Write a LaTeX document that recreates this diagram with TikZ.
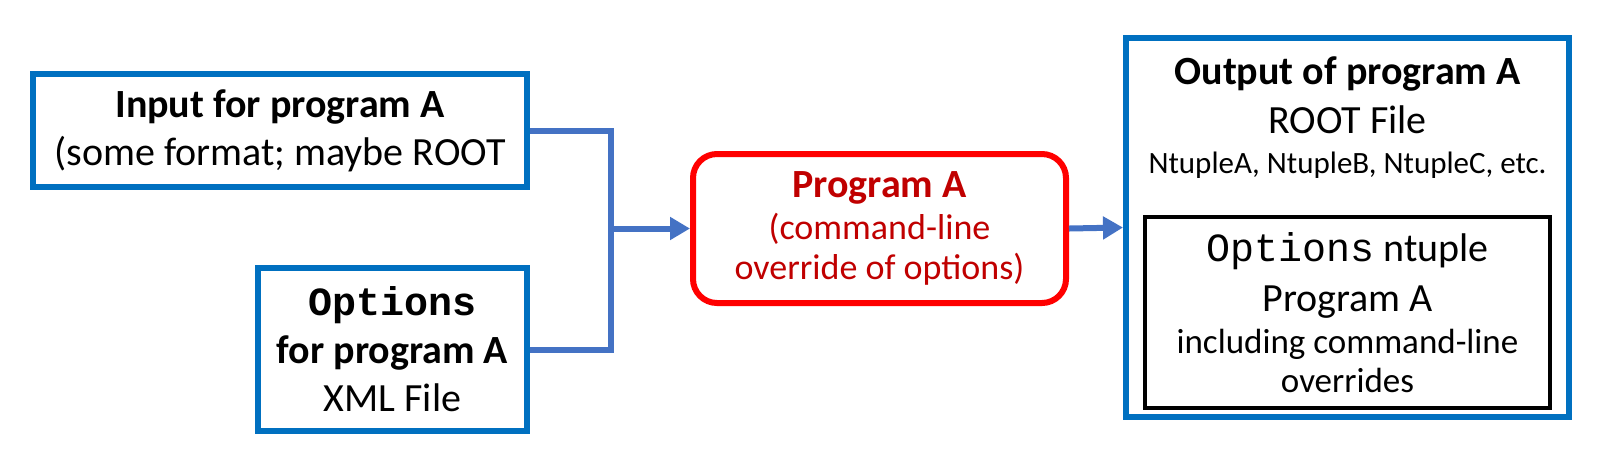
\documentclass[tikz,border=0pt]{standalone}
\usepackage{fontspec}
\setmainfont{Carlito}
\newfontfamily\codefont{Liberation Mono}
\usetikzlibrary{positioning,arrows.meta}
\definecolor{boxblue}{HTML}{0070C0}
\definecolor{linkblue}{HTML}{4472C4}
\definecolor{progred}{HTML}{FF0000}
\definecolor{progtext}{HTML}{C00000}
\tikzset{
  bluebox/.style={draw=boxblue, line width=3pt, align=center, inner sep=0pt},
  progbox/.style={draw=progred, line width=3pt, rounded corners=12pt, align=center, text=progtext},
  ntbox/.style={draw=black, line width=1.8pt, align=center},
  link/.style={draw=linkblue, line width=3pt},
  linkarrow/.style={link, -{Triangle[length=10pt,width=11pt]}},
}

\begin{document}
\begin{tikzpicture}[x=0.5pt, y=-0.5pt, font=\fontsize{20}{24}\selectfont]
\useasboundingbox (0,0) rectangle (1616,473);
% input side
\node[bluebox, minimum width=247pt, minimum height=56.5pt] (input) at (280,130.5)
  {\textbf{Input for program A}\\(some format; maybe ROOT};
\node[bluebox, minimum width=134.5pt, minimum height=81.5pt] (options) at (392.5,349.5)
  {\textbf{\codefont Options}\\\textbf{for program A}\\XML File};
% program
\node[progbox, minimum width=186.5pt, minimum height=74.5pt] (prog) at (879.5,228.5)
  {\textbf{Program A}\\[-3pt]{\fontsize{18}{22}\selectfont (command-line}\\[-4pt]{\fontsize{18}{22}\selectfont override of options)}};
% output
\node[bluebox, minimum width=221.5pt, minimum height=189.5pt] (output) at (1347.5,227.5) {};
\node[below=10.5pt of output.north, align=center, inner sep=0pt] (outtext)
  {\textbf{Output of program A}\\[0.5pt]ROOT File\\[-4pt]{\fontsize{15.5}{18}\selectfont NtupleA, NtupleB, NtupleC, etc.}};
\node[ntbox, minimum width=202.5pt, minimum height=95.5pt] (ntuple) at (1347.5,312.5)
  {{\codefont Options} ntuple\\[1pt]Program A\\[-3pt]{\fontsize{17.5}{21}\selectfont including command-line}\\[-4.5pt]{\fontsize{17.5}{21}\selectfont overrides}};
% connectors
\coordinate (join) at (611,228.5);
\draw[link] (input.east) -| (join);
\draw[link] (options.east) -| (join);
\draw[linkarrow] (join) -- (prog.west);
\draw[linkarrow] (prog.east) -- (output.west);
\end{tikzpicture}
\end{document}
